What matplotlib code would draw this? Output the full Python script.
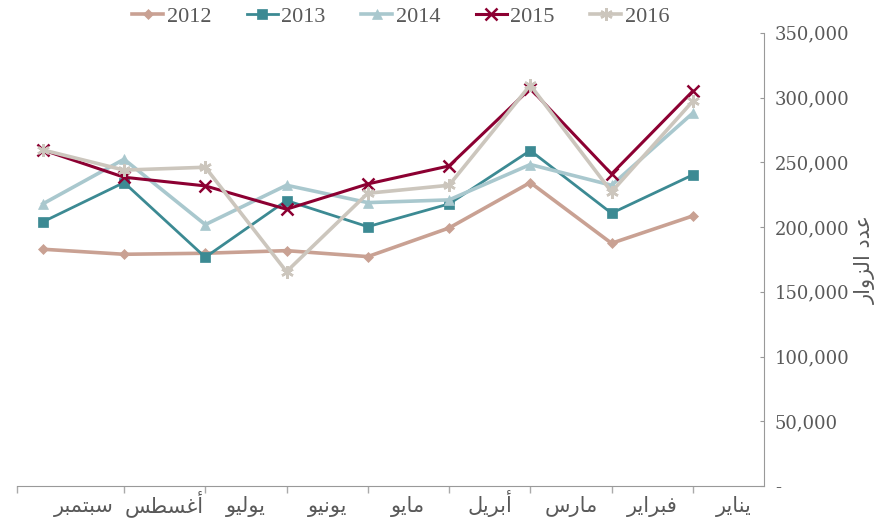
import matplotlib.pyplot as plt
from matplotlib.ticker import FuncFormatter, NullFormatter

# bulan (urutan kanan ke kiri seperti aslinya)
bulan = ["يناير", "فبراير", "مارس", "أبريل", "مايو", "يونيو", "يوليو", "أغسطس", "سبتمبر"]
judul_y = "عدد الزوار"

tahun = ["2012", "2013", "2014", "2015", "2016"]
v2012 = [208600, 187500, 234400, 199300, 177200, 181800, 179800, 179000, 182900]
v2013 = [240300, 210700, 259100, 217900, 200300, 220500, 176700, 234400, 204000]
v2014 = [288000, 232300, 248300, 221000, 218900, 232300, 201900, 252400, 217900]
v2015 = [305000, 241000, 307000, 247200, 233300, 213800, 231800, 238500, 259600]
v2016 = [297200, 227200, 309600, 232300, 226100, 165600, 246200, 244000, 259600]

# bentuk huruf arab manual (matplotlib tidak melakukan shaping)
BENTUK = {
    'ا': ('\ufe8d', '\ufe8e', None, None),
    'أ': ('\ufe83', '\ufe84', None, None),
    'ب': ('\ufe8f', '\ufe90', '\ufe91', '\ufe92'),
    'ت': ('\ufe95', '\ufe96', '\ufe97', '\ufe98'),
    'د': ('\ufea9', '\ufeaa', None, None),
    'ر': ('\ufead', '\ufeae', None, None),
    'ز': ('\ufeaf', '\ufeb0', None, None),
    'س': ('\ufeb1', '\ufeb2', '\ufeb3', '\ufeb4'),
    'ط': ('\ufec1', '\ufec2', '\ufec3', '\ufec4'),
    'ع': ('\ufec9', '\ufeca', '\ufecb', '\ufecc'),
    'غ': ('\ufecd', '\ufece', '\ufecf', '\ufed0'),
    'ف': ('\ufed1', '\ufed2', '\ufed3', '\ufed4'),
    'ل': ('\ufedd', '\ufede', '\ufedf', '\ufee0'),
    'م': ('\ufee1', '\ufee2', '\ufee3', '\ufee4'),
    'ن': ('\ufee5', '\ufee6', '\ufee7', '\ufee8'),
    'و': ('\ufeed', '\ufeee', None, None),
    'ي': ('\ufef1', '\ufef2', '\ufef3', '\ufef4'),
}


def arab(teks):
    hasil = []
    for i, c in enumerate(teks):
        if c not in BENTUK:
            hasil.append(c)
            continue
        prev = teks[i - 1] if i > 0 else None
        nxt = teks[i + 1] if i < len(teks) - 1 else None
        sambung_kanan = prev in BENTUK and BENTUK[prev][2] is not None
        sambung_kiri = nxt in BENTUK and BENTUK[c][2] is not None
        iso, fin, ini, med = BENTUK[c]
        if sambung_kanan and sambung_kiri:
            hasil.append(med)
        elif sambung_kanan:
            hasil.append(fin)
        elif sambung_kiri:
            hasil.append(ini)
        else:
            hasil.append(iso)
    return ''.join(reversed(hasil))


warna = ['#C9A193', '#3C8A93', '#A9C8CE', '#8C0032', '#CCC6BD']
marker = ['D', 's', '^', 'x', (6, 2, 0)]
ukuran = [5, 7, 7, 8, 9]
tebal = [2.6, 2.0, 2.6, 2.2, 2.6]
data = [v2012, v2013, v2014, v2015, v2016]

fig = plt.figure(figsize=(8.83, 5.21), dpi=100)
ax = fig.add_axes([0.019, 0.067, 0.846, 0.870])

x = list(range(len(bulan)))
for nama, y, w, m, s, lw in zip(tahun, data, warna, marker, ukuran, tebal):
    ax.plot(x, y, color=w, marker=m, markersize=s, linewidth=lw, label=nama,
            markeredgewidth=1.8 if m in ('x', (6, 2, 0)) else 0.5,
            markeredgecolor=w, markerfacecolor=w)

ax.set_yticks(range(0, 350001, 50000))
ax.yaxis.set_major_formatter(FuncFormatter(lambda v, p: '-' if v == 0 else f'{int(v):,}'))
ax.yaxis.tick_right()
ax.yaxis.set_label_position('right')
ax.tick_params(axis='y', direction='in', length=3, color='#999999', labelcolor='#595959',
               labelsize=13, pad=8)
for lbl in ax.get_yticklabels():
    lbl.set_family('DejaVu Serif')
ax.set_ylabel(arab(judul_y), fontsize=15, color='#595959', family='DejaVu Sans', labelpad=4)

# batas sumbu x (terbalik, kanan ke kiri)
x_kiri, x_kanan = 8.32, -0.874

# garis tick di titik kategori, label di antaranya (seperti di excel)
ax.set_xticks(x[:-1] + [x_kiri])
ax.xaxis.set_major_formatter(NullFormatter())
ax.set_xticks([i - 0.5 for i in x], minor=True)
ax.set_xticklabels([arab(b) for b in bulan], minor=True, fontsize=15, color='#595959',
                   family='DejaVu Sans', va='baseline')
ax.tick_params(axis='x', which='minor', length=0, pad=19)
ax.tick_params(axis='x', which='major', direction='out', length=5, width=1, color='#AAAAAA')

ax.set_ylim(0, 350000)
ax.set_xlim(x_kiri, x_kanan)

for k in ['left', 'top']:
    ax.spines[k].set_visible(False)
for k in ['right', 'bottom']:
    ax.spines[k].set_color('#999999')

leg = ax.legend(loc='center', bbox_to_anchor=(0.514, 1.035), ncol=5, frameon=False,
                handlelength=1.4, columnspacing=1.6, handletextpad=0.15,
                prop={'family': 'Liberation Serif', 'size': 16})
for t in leg.get_texts():
    t.set_color('#595959')

fig.savefig('out.png', dpi=100)
